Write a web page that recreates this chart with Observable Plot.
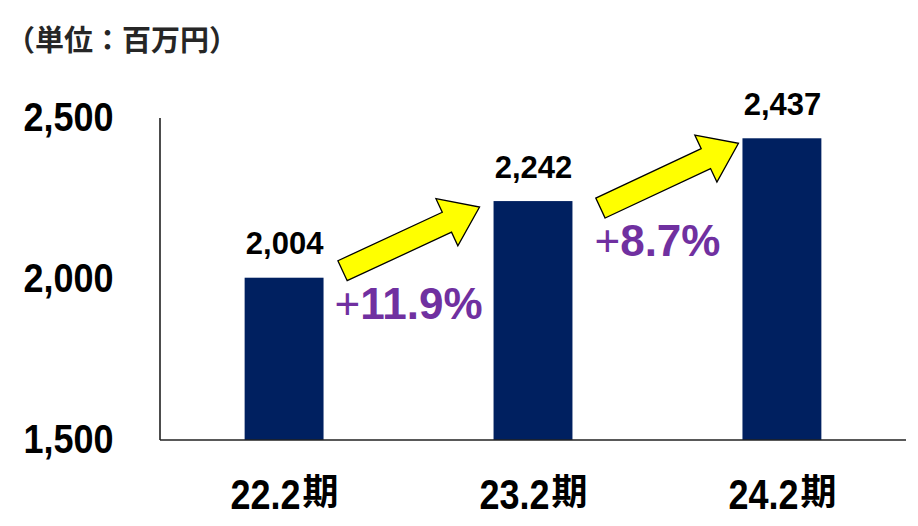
<!DOCTYPE html>
<html><head><meta charset="utf-8">
<script src="https://cdn.jsdelivr.net/npm/d3@7"></script>
<script src="https://cdn.jsdelivr.net/npm/@observablehq/plot@0.6"></script>
<style>
body{margin:0;background:#fff;}
#wrap{position:relative;width:918px;height:526px;}
#title{position:absolute;left:6px;top:24px;font-family:"Noto Sans CJK JP";font-weight:bold;font-size:29px;color:#262626;line-height:1;white-space:nowrap;z-index:2;}
#wrap svg{position:absolute;left:0;top:0;}
</style></head><body>
<div id="wrap"><div id="title">（単位：百万円）</div></div>
<script>
const periods = ["22.2期", "23.2期", "24.2期"];
const sales = [2004, 2242, 2437];
const yTicks = [1500, 2000, 2500];
const growth = ["11.9%", "8.7%"];

const data = periods.map((p, i) => ({period: p, value: sales[i]}));
const sans = "'Liberation Sans', Arial, sans-serif";
const cjk = "'Noto Sans CJK JP', sans-serif";

function frameLines(index, {x, y}, values, dims) {
  const g = d3.create("svg:g");
  const x0 = dims.marginLeft, x1 = dims.width - dims.marginRight;
  const yb = y(yTicks[0]), yt = y(yTicks[yTicks.length - 1]);
  g.append("line").attr("x1", x0).attr("x2", x0).attr("y1", yt).attr("y2", yb)
    .attr("stroke", "#000").attr("stroke-width", 1.4);
  g.append("line").attr("x1", x0).attr("x2", x1).attr("y1", yb).attr("y2", yb)
    .attr("stroke", "#222").attr("stroke-width", 1.4);
  return g.node();
}

function arrows(index, {x, y}) {
  const bw = typeof x.bandwidth === "function" ? x.bandwidth() : 79;
  const offs = [{tx: 19, ty: -7, px: -14, py: 6}, {tx: 28, ty: 7, px: -4, py: 5}];
  const g = d3.create("svg:g");
  for (let i = 0; i < periods.length - 1; i++) {
    const o = offs[i];
    const T = [x(periods[i]) + bw + o.tx, y(sales[i]) + o.ty];
    const P = [x(periods[i + 1]) + o.px, y(sales[i + 1]) + o.py];
    const dx = P[0] - T[0], dy = P[1] - T[1], L = Math.hypot(dx, dy);
    const u = [dx / L, dy / L], n = [-u[1], u[0]];
    const hw = 11, hhw = 26, hl = 36;
    const H = [P[0] - u[0] * hl, P[1] - u[1] * hl];
    const pts = [
      [T[0] + n[0] * hw, T[1] + n[1] * hw],
      [H[0] + n[0] * hw, H[1] + n[1] * hw],
      [H[0] + n[0] * hhw, H[1] + n[1] * hhw],
      P,
      [H[0] - n[0] * hhw, H[1] - n[1] * hhw],
      [H[0] - n[0] * hw, H[1] - n[1] * hw],
      [T[0] - n[0] * hw, T[1] - n[1] * hw]
    ];
    g.append("polygon").attr("points", pts.map(p => p.join(",")).join(" "))
      .attr("fill", "#FFFF00").attr("stroke", "#000").attr("stroke-width", 1.3)
      .attr("stroke-linejoin", "miter");
    const mx = (x(periods[i]) + x(periods[i + 1])) / 2 + bw / 2;
    const my = (T[1] + P[1]) / 2 + 80;
    const t = g.append("text").attr("x", mx).attr("y", my).attr("text-anchor", "middle")
      .attr("fill", "#7030A0").attr("font-family", sans).attr("font-size", 44);
    t.append("tspan").attr("font-weight", "normal").text("+");
    t.append("tspan").attr("font-weight", "bold").text(growth[i]);
  }
  return g.node();
}

const chart = Plot.plot({
  width: 918,
  height: 526,
  marginTop: 118,
  marginBottom: 86,
  marginLeft: 160,
  marginRight: 12,
  x: {domain: periods, paddingInner: 0.683, paddingOuter: 0.34, round: false, axis: null},
  y: {domain: [1500, 2500], axis: null, label: null},
  style: {background: "#fff", color: "#000"},
  marks: [
    Plot.barY(data, {x: "period", y1: 1500, y2: "value", fill: "#002060"}),
    frameLines,
    Plot.axisY({ticks: yTicks, tickSize: 0, tickPadding: 47, tickFormat: d3.format(","), label: null,
      fontSize: 40, fontWeight: "bold", fontFamily: sans, fill: "#000", className: "ytick"}),
    Plot.text(data, {x: "period", y: "value", text: d => d3.format(",")(d.value), dy: -24,
      lineAnchor: "bottom", fontSize: 31, fontWeight: "bold", fontFamily: sans, fill: "#000"}),
    Plot.text(periods, {x: d => d, text: d => d, frameAnchor: "bottom", dy: 68,
      textAnchor: "middle", lineAnchor: "bottom", fontSize: 42, fontWeight: "bold", fontFamily: sans,
      fill: "#000", className: "xlab"}),
    arrows
  ]
});
// condense the narrow-font labels as in the reference
d3.select(chart).selectAll(".ytick text").attr("textLength", 90).attr("lengthAdjust", "spacingAndGlyphs");
d3.select(chart).selectAll(".xlab text").each(function() {
  const t = d3.select(this);
  const s = t.text();
  t.text(null);
  t.append("tspan").attr("textLength", 70).attr("lengthAdjust", "spacingAndGlyphs").text(s.slice(0, -1));
  t.append("tspan").attr("font-family", cjk).attr("font-size", 36).attr("dx", 2).attr("dy", -4).text(s.slice(-1));
});
document.getElementById("wrap").appendChild(chart);
</script>
</body></html>
